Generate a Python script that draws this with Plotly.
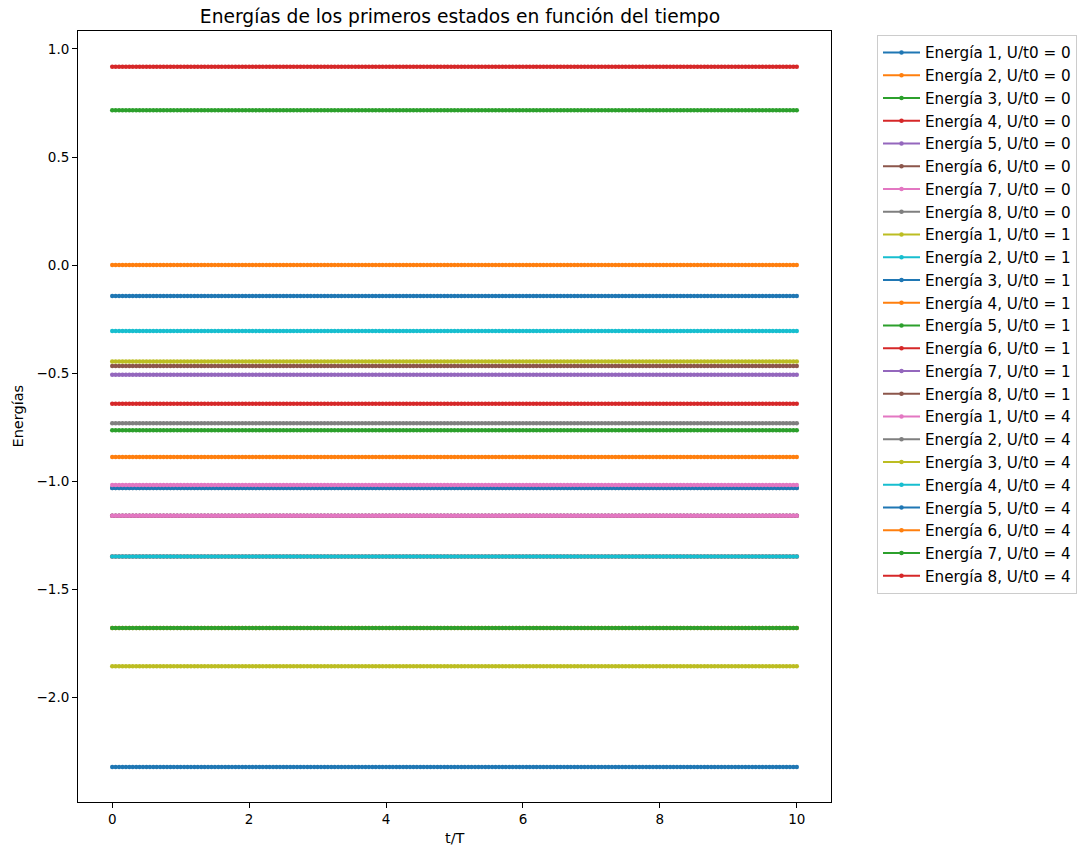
import numpy as np
import plotly.graph_objects as go

# Time grid (t/T)
t = np.linspace(0, 10, 201)

# Energies of the first eight states for each interaction strength U/t0
U_values = [0, 1, 4]
energies_U0 = [-2.324, -1.681, -1.681, -1.349, -1.161, -1.161, -1.161, -1.032]
energies_U1 = [-1.858, -1.349, -1.032, -0.889, -0.765, -0.642, -0.508, -0.468]
energies_U4 = [-1.019, -0.733, -0.447, -0.306, -0.1435, 0.0, 0.716, 0.918]
energies = [energies_U0, energies_U1, energies_U4]

# matplotlib default colour cycle
palette = ["#1f77b4", "#ff7f0e", "#2ca02c", "#d62728", "#9467bd",
           "#8c564b", "#e377c2", "#7f7f7f", "#bcbd22", "#17becf"]

fig = go.Figure()
k = 0
for U, levels in zip(U_values, energies):
    for i, e in enumerate(levels):
        color = palette[k % len(palette)]
        fig.add_trace(go.Scatter(
            x=t, y=np.full_like(t, e),
            mode="lines+markers",
            name=f"Energía {i + 1}, U/t0 = {U}",
            line=dict(color=color, width=2),
            marker=dict(color=color, size=4.5, line=dict(width=0)),
        ))
        k += 1

axis_common = dict(
    showline=True, linecolor="black", linewidth=1, mirror=True,
    ticks="outside", ticklen=5, tickwidth=1, tickcolor="black",
    showgrid=False, zeroline=False, automargin=False,
    tickfont=dict(family="DejaVu Sans", size=13.5, color="black"),
)

W, H = 1078, 850
ML, MR, MT, MB = 78, 247, 31, 48
plot_w, plot_h = W - ML - MR, H - MT - MB

fig.update_layout(
    width=W, height=H,
    margin=dict(l=ML, r=MR, t=MT, b=MB, autoexpand=False),
    paper_bgcolor="white", plot_bgcolor="white",
    font=dict(family="DejaVu Sans", color="black"),
    title=dict(text="Energías de los primeros estados en función del tiempo",
               x=460 / W, xref="container", xanchor="center",
               y=1 - 16 / H, yref="container", yanchor="middle",
               font=dict(size=18.7, family="DejaVu Sans", color="black")),
    xaxis=dict(range=[-0.5, 10.5], tickvals=[0, 2, 4, 6, 8, 10], **axis_common),
    yaxis=dict(range=[-2.486, 1.0833], tickvals=[-2.0, -1.5, -1.0, -0.5, 0.0, 0.5, 1.0],
               tickformat=".1f", **axis_common),
    legend=dict(x=877 / W, xref="container", xanchor="left",
                y=1 - 35 / H, yref="container", yanchor="top",
                maxheight=700,
                bgcolor="white", bordercolor="#cccccc", borderwidth=1,
                font=dict(family="DejaVu Sans", size=15.2, color="black"),
                tracegroupgap=0, itemwidth=37),
    showlegend=True,
    annotations=[
        dict(text="t/T", x=0.5, xref="paper", y=-(838 - (H - MB)) / plot_h, yref="paper",
             xanchor="center", yanchor="middle",
             showarrow=False, font=dict(size=14.5, family="DejaVu Sans")),
        dict(text="Energías", x=-(ML - 17) / plot_w, y=0.5, xref="paper", yref="paper",
             xanchor="center", yanchor="middle",
             textangle=-90, showarrow=False, font=dict(size=14.5, family="DejaVu Sans")),
    ],
)

fig.write_html("out.html")
